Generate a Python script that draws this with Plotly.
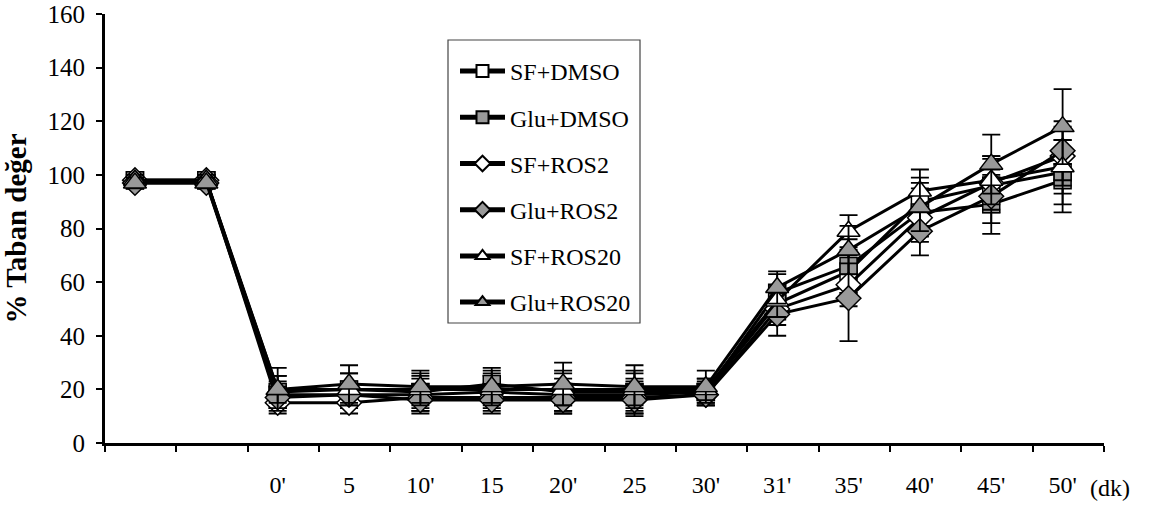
import plotly.graph_objects as go

categories = ["", "", "0'", "5", "10'", "15", "20'", "25", "30'", "31'", "35'", "40'", "45'", "50'"]

series_names = ["SF+DMSO", "Glu+DMSO", "SF+ROS2", "Glu+ROS2", "SF+ROS20", "Glu+ROS20"]

sf_dmso = [98, 98, 18, 18, 18, 19, 18, 18, 19, 52, 64, 90, 96, 101]
glu_dmso = [98, 98, 19, 20, 19, 22, 19, 19, 19, 56, 66, 86, 89, 98]
sf_ros2 = [98, 98, 15, 15, 17, 17, 17, 17, 18, 50, 59, 84, 97, 107]
glu_ros2 = [97, 97, 17, 18, 16, 16, 16, 16, 18, 48, 54, 79, 92, 109]
sf_ros20 = [98, 98, 20, 20, 20, 20, 20, 20, 20, 53, 79, 94, 98, 103]
glu_ros20 = [97, 97, 20, 22, 21, 21, 22, 21, 21, 58, 72, 88, 104, 118]

err_sf_dmso = [2, 2, 5, 5, 6, 6, 6, 6, 4, 6, 8, 9, 10, 12]
err_glu_dmso = [2, 2, 6, 6, 6, 6, 8, 8, 5, 7, 10, 9, 11, 12]
err_sf_ros2 = [2, 2, 4, 4, 5, 5, 5, 6, 4, 6, 8, 9, 10, 11]
err_glu_ros2 = [2, 2, 4, 4, 5, 5, 5, 6, 4, 8, 16, 9, 10, 11]
err_sf_ros20 = [2, 2, 5, 6, 6, 6, 6, 6, 4, 6, 6, 8, 9, 10]
err_glu_ros20 = [2, 2, 8, 7, 6, 6, 8, 8, 6, 6, 9, 9, 11, 14]

y_ticks = [0, 20, 40, 60, 80, 100, 120, 140, 160]
x_unit_label = "(dk)"

values = [sf_dmso, glu_dmso, sf_ros2, glu_ros2, sf_ros20, glu_ros20]
errors = [err_sf_dmso, err_glu_dmso, err_sf_ros2, err_glu_ros2, err_sf_ros20, err_glu_ros20]
symbols = ["square", "square", "diamond", "diamond", "triangle-up", "triangle-up"]
fills = ["white", "#999999", "white", "#999999", "white", "#999999"]
sizes = [17, 17, 19, 19, 20, 20]

x_idx = list(range(len(categories)))

SERIF = "Liberation Serif, Times New Roman, serif"

W, H = 1150, 506
L, R, T, B = 105, 46, 14, 63
pw, ph = W - L - R, H - T - B

def px_x(p):
    return (p - L) / pw

def px_y(p):
    return (H - B - p) / ph

fig = go.Figure()
for i, name in enumerate(series_names):
    fig.add_trace(go.Scatter(
        x=x_idx, y=values[i], name=name, mode="lines+markers",
        line=dict(color="black", width=3),
        marker=dict(symbol=symbols[i], size=sizes[i], color=fills[i],
                    line=dict(color="black", width=1.5)),
        error_y=dict(type="data", array=errors[i], visible=True,
                     color="black", thickness=1.8, width=9),
        legendgroup=name,
    ))

fig.update_layout(
    width=W, height=H,
    margin=dict(l=L, r=R, t=T, b=B, autoexpand=False),
    paper_bgcolor="white", plot_bgcolor="white",
    font=dict(family=SERIF, color="black", size=24),
    showlegend=True,
    legend=dict(
        x=px_x(455), y=px_y(49), xanchor="left", yanchor="top",
        bgcolor="rgba(0,0,0,0)", borderwidth=0,
        font=dict(family=SERIF, size=24, color="black"),
        traceorder="grouped", tracegroupgap=12,
        itemsizing="constant", itemwidth=45,
    ),
    xaxis=dict(
        range=[-0.42, 13.58], tickmode="array", tickvals=x_idx, ticktext=categories,
        ticks="", showline=True, linecolor="black", linewidth=3,
        showgrid=False, zeroline=False, automargin=False,
        tickfont=dict(family=SERIF, size=24, color="black"),
        ticklabelstandoff=18, ticklabeloverflow="allow",
        minor=dict(tickmode="linear", tick0=-0.42, dtick=1, ticks="outside",
                   ticklen=6, tickwidth=1.5, tickcolor="black", showgrid=False),
    ),
    yaxis=dict(
        range=[0, 160], tickvals=y_ticks, ticks="outside", ticklen=6,
        tickwidth=1.5, tickcolor="black", showline=True, linecolor="black",
        linewidth=3, showgrid=False, zeroline=False, automargin=False,
        tickfont=dict(family=SERIF, size=25, color="black"),
        ticklabelstandoff=6, ticklabeloverflow="allow",
        title=dict(text="<b>% Taban değer</b>",
                   font=dict(family=SERIF, size=29, color="black"), standoff=13),
    ),
    shapes=[dict(type="rect", xref="paper", yref="paper",
                 x0=px_x(448), x1=px_x(640), y0=px_y(323), y1=px_y(40),
                 line=dict(color="#444444", width=1.2), fillcolor="rgba(0,0,0,0)",
                 layer="above")],
)

fig.add_annotation(
    text=x_unit_label, xref="paper", yref="paper", x=px_x(1110), y=px_y(487.5),
    xanchor="center", yanchor="middle", showarrow=False,
    font=dict(family=SERIF, size=24, color="black"),
)

fig.write_html("out.html",
               config={"displayModeBar": False},
               post_script="document.body.style.margin='0';document.body.style.overflow='hidden';")
